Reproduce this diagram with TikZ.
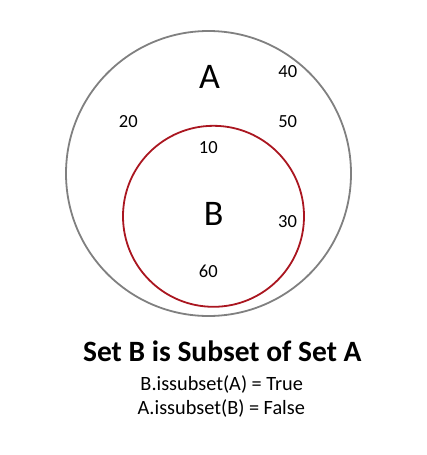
\documentclass[tikz,border=0pt]{standalone}
\usepackage{fontspec}
\setmainfont{Carlito}
\definecolor{ringgray}{RGB}{128,128,128}
\definecolor{ringred}{RGB}{170,22,32}
\begin{document}
\begin{tikzpicture}[x=1pt,y=-1pt,
	elem/.style={anchor=base, font=\fontsize{18.5}{20}\selectfont},
	setname/.style={anchor=base, font=\fontsize{36}{40}\selectfont},
	callline/.style={anchor=base, font=\fontsize{20.3}{22}\selectfont}]
\useasboundingbox (0,0) rectangle (426,455);
\draw [ringgray, line width=1.8pt] (208.5,173.5) circle (142.5) ;
\draw [ringred, line width=1.8pt] (213.5,216.3) circle (90.5) ;
\node[setname] (nameA) at (209.5,88.3) {A};
\node[setname] (nameB) at (213.7,225) {B};
\node[elem] (e40) at (287.8,77) {40};
\node[elem] (e20) at (128.3,127.7) {20};
\node[elem] (e50) at (287.7,127.7) {50};
\node[elem] (e10) at (208.3,153.3) {10};
\node[elem] (e30) at (287.5,227.8) {30};
\node[elem] (e60) at (208.3,277.7) {60};
\node[anchor=base, font=\bfseries\fontsize{29.5}{32}\selectfont] (title) at (222.3,361) {Set B is Subset of Set A};
\node[callline] (lineB) at (221.7,390.5) {B.issubset(A) = True};
\node[callline] (lineA) at (221.3,414.5) {A.issubset(B) = False};
\end{tikzpicture}
\end{document}
